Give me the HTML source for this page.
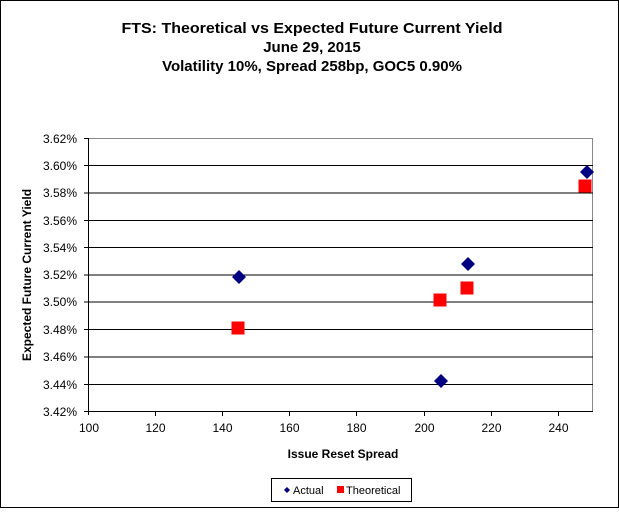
<!DOCTYPE html>
<html><head><meta charset="utf-8"><style>body{margin:0;background:#fff}</style></head><body>
<svg width="619" height="509" xmlns="http://www.w3.org/2000/svg" font-family="Liberation Sans, Arial, sans-serif">
<rect x="0.5" y="0.5" width="618" height="507" fill="#fff" stroke="#000"/>
<g font-weight="bold" font-size="15" text-anchor="middle" fill="#000">
<text x="312" y="33" textLength="381" lengthAdjust="spacingAndGlyphs">FTS: Theoretical vs Expected Future Current Yield</text>
<text x="312" y="52">June 29, 2015</text>
<text x="312" y="71">Volatility  10%, Spread 258bp, GOC5 0.90%</text>
</g>
<g stroke="#000" stroke-width="1">
<line x1="88" y1="138.5" x2="593" y2="138.5" stroke="#888"/>
<line x1="592.5" y1="138" x2="592.5" y2="412" stroke="#888"/>
<line x1="88" y1="165.5" x2="593" y2="165.5"/>
<line x1="88" y1="193" x2="593" y2="193"/>
<line x1="88" y1="220.5" x2="593" y2="220.5"/>
<line x1="88" y1="247.5" x2="593" y2="247.5"/>
<line x1="88" y1="275" x2="593" y2="275"/>
<line x1="88" y1="302" x2="593" y2="302"/>
<line x1="88" y1="329.5" x2="593" y2="329.5"/>
<line x1="88" y1="357" x2="593" y2="357"/>
<line x1="88" y1="384.5" x2="593" y2="384.5"/>
<line x1="88" y1="411.5" x2="593" y2="411.5"/>
<line x1="88.5" y1="138" x2="88.5" y2="415"/>
<line x1="84" y1="138.5" x2="88" y2="138.5"/>
<line x1="84" y1="165.5" x2="88" y2="165.5"/>
<line x1="84" y1="193" x2="88" y2="193"/>
<line x1="84" y1="220.5" x2="88" y2="220.5"/>
<line x1="84" y1="247.5" x2="88" y2="247.5"/>
<line x1="84" y1="275" x2="88" y2="275"/>
<line x1="84" y1="302" x2="88" y2="302"/>
<line x1="84" y1="329.5" x2="88" y2="329.5"/>
<line x1="84" y1="357" x2="88" y2="357"/>
<line x1="84" y1="384.5" x2="88" y2="384.5"/>
<line x1="84" y1="411.5" x2="88" y2="411.5"/>
<line x1="155.5" y1="412" x2="155.5" y2="416"/>
<line x1="222.5" y1="412" x2="222.5" y2="416"/>
<line x1="289.5" y1="412" x2="289.5" y2="416"/>
<line x1="356.5" y1="412" x2="356.5" y2="416"/>
<line x1="424.5" y1="412" x2="424.5" y2="416"/>
<line x1="491.5" y1="412" x2="491.5" y2="416"/>
<line x1="558.5" y1="412" x2="558.5" y2="416"/>
</g>
<g font-size="12" text-anchor="end" fill="#000">
<text x="77" y="143">3.62%</text><text x="77" y="170">3.60%</text><text x="77" y="197">3.58%</text>
<text x="77" y="225">3.56%</text><text x="77" y="252">3.54%</text><text x="77" y="279">3.52%</text>
<text x="77" y="306">3.50%</text><text x="77" y="334">3.48%</text><text x="77" y="361">3.46%</text>
<text x="77" y="389">3.44%</text><text x="77" y="416">3.42%</text>
</g>
<g font-size="12" text-anchor="middle" fill="#000">
<text x="89" y="432">100</text><text x="155.5" y="432">120</text><text x="222.5" y="432">140</text>
<text x="289.5" y="432">160</text><text x="356.5" y="432">180</text><text x="424.5" y="432">200</text>
<text x="491.5" y="432">220</text><text x="558.5" y="432">240</text>
</g>
<text x="343" y="458" font-size="12" font-weight="bold" text-anchor="middle">Issue  Reset  Spread</text>
<text transform="translate(31,275) rotate(-90)" font-size="12" font-weight="bold" text-anchor="middle">Expected Future Current Yield</text>
<g fill="#000080">
<path d="M239 270 L246 277 L239 284 L232 277Z"/>
<path d="M441 374 L448 381 L441 388 L434 381Z"/>
<path d="M468 257 L475 264 L468 271 L461 264Z"/>
<path d="M587 165 L594 172 L587 179 L580 172Z"/>
</g>
<g fill="#ff0000">
<rect x="231.5" y="321.5" width="13" height="13"/>
<rect x="433.5" y="293.5" width="13" height="13"/>
<rect x="460.5" y="281.5" width="13" height="13"/>
<rect x="578.5" y="179.5" width="13" height="13"/>
</g>
<rect x="271.5" y="478.5" width="140" height="23" fill="#fff" stroke="#000"/>
<path d="M287 487 L290 490 L287 493 L284 490Z" fill="#000080"/>
<text x="293" y="494" font-size="11">Actual</text>
<rect x="337" y="486" width="7" height="7" fill="#ff0000"/>
<text x="346" y="494" font-size="11">Theoretical</text>
</svg>
</body></html>
